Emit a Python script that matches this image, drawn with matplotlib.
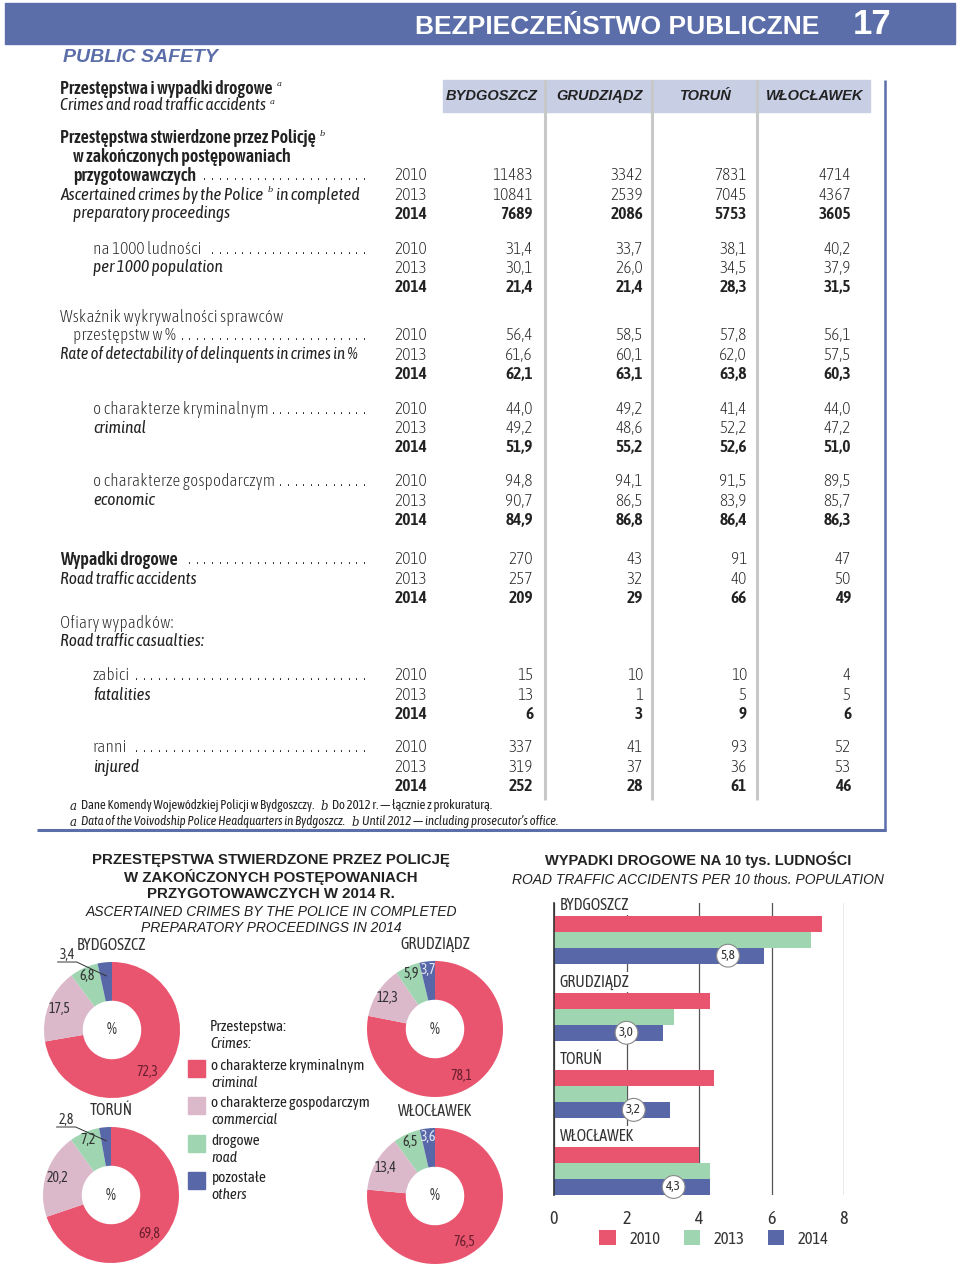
import matplotlib
matplotlib.use('Agg')
import matplotlib.pyplot as plt
from matplotlib import font_manager
from matplotlib.patches import Rectangle
from matplotlib.lines import Line2D
import numpy as np

W, H = 960, 1265

# ---- data: table ----
cities = ['BYDGOSZCZ', 'GRUDZIĄDZ', 'TORUŃ', 'WŁOCŁAWEK']
years = ['2010', '2013', '2014']
crimes = [[11483, 3342, 7831, 4714], [10841, 2539, 7045, 4367], [7689, 2086, 5753, 3605]]
crimes_per_1000 = [[31.4, 33.7, 38.1, 40.2], [30.1, 26.0, 34.5, 37.9], [21.4, 21.4, 28.3, 31.5]]
detect_total = [[56.4, 58.5, 57.8, 56.1], [61.6, 60.1, 62.0, 57.5], [62.1, 63.1, 63.8, 60.3]]
detect_criminal = [[44.0, 49.2, 41.4, 44.0], [49.2, 48.6, 52.2, 47.2], [51.9, 55.2, 52.6, 51.0]]
detect_economic = [[94.8, 94.1, 91.5, 89.5], [90.7, 86.5, 83.9, 85.7], [84.9, 86.8, 86.4, 86.3]]
accidents = [[270, 43, 91, 47], [257, 32, 40, 50], [209, 29, 66, 49]]
fatalities = [[15, 10, 10, 4], [13, 1, 5, 5], [6, 3, 9, 6]]
injured = [[337, 41, 93, 52], [319, 37, 36, 53], [252, 28, 61, 46]]

# ---- data: donuts (2014, %) ----
types_pl = ['o charakterze kryminalnym', 'o charakterze gospodarczym', 'drogowe', 'pozostałe']
types_en = ['criminal', 'commercial', 'road', 'others']
share_criminal = [72.3, 78.1, 69.8, 76.5]
share_commercial = [17.5, 12.3, 20.2, 13.4]
share_road = [6.8, 5.9, 7.2, 6.5]
share_others = [3.4, 3.7, 2.8, 3.6]

# ---- data: road accidents per 10 thous. population ----
acc_2010 = [7.4, 4.3, 4.4, 4.0]
acc_2013 = [7.1, 3.3, 2.0, 4.3]
acc_2014 = [5.8, 3.0, 3.2, 4.3]
bar_ticks = [0, 2, 4, 6, 8]

# ---- style ----
RED = '#e9556f'
PINK = '#dbb9cb'
GREEN = '#9fd6b1'
BLUE = '#5867a8'
HEAD = '#5b6ea9'
BAND = '#c8cfe5'
TXT = '#222222'
type_colors = [RED, PINK, GREEN, BLUE]

names = {f.name for f in font_manager.fontManager.ttflist}
NARROW = 'Asap Condensed' if 'Asap Condensed' in names else 'Liberation Sans'
SANS = 'Liberation Sans'
LIGHT = 'light'
SEMI = 'semibold'
plt.rcParams['font.family'] = [NARROW, 'DejaVu Sans']

fig = plt.figure(figsize=(W / 100, H / 100), dpi=100)
renderer = fig.canvas.get_renderer()


def fx(x):
    return x / W


def fy(y):
    return 1 - y / H


def put(x, y, s, size=12, family=None, color=TXT, **kw):
    kw.setdefault('va', 'center')
    fam = [family or NARROW, 'DejaVu Sans']
    return fig.text(fx(x), fy(y), s, fontsize=size, family=fam, color=color, **kw)


def chain(x, y, parts, size=12):
    # lay out text pieces one after another on a line
    t = None
    for s, kw in parts:
        kw = dict(kw)
        dy = kw.pop('dy', 0)
        gap = kw.pop('gap', 4)
        sz = kw.pop('size', size)
        t = put(x, y + dy, s, size=sz, **kw)
        x = t.get_window_extent(renderer).x1 + gap
    return t


def hline(x0, x1, y, color, lw):
    fig.add_artist(Line2D([fx(x0), fx(x1)], [fy(y), fy(y)], transform=fig.transFigure,
                          color=color, lw=lw, solid_capstyle='butt'))


def vline(x, y0, y1, color, lw):
    fig.add_artist(Line2D([fx(x), fx(x)], [fy(y0), fy(y1)], transform=fig.transFigure,
                          color=color, lw=lw, solid_capstyle='butt'))


def fmt(v):
    return str(v) if isinstance(v, int) else f'{v:.1f}'.replace('.', ',')


# ---- page header ----
fig.add_artist(Rectangle((fx(5), fy(44)), 950 / W, 41 / H, transform=fig.transFigure,
                         color=HEAD, zorder=0))
put(415, 27, 'BEZPIECZEŃSTWO PUBLICZNE', size=19, family=SANS, weight='bold', color='white')
put(853, 25, '17', size=25, family=SANS, weight='bold', color='white')
put(63, 58, 'PUBLIC SAFETY', size=14, family=SANS, weight='bold', style='italic', color=HEAD)

# ---- table frame ----
fig.add_artist(Rectangle((fx(443), fy(112)), 427 / W, 32 / H, transform=fig.transFigure,
                         color=BAND, zorder=0))
for x in [545, 652, 757]:
    vline(x, 80, 800, '#c8c8c8', 2.2)
vline(885, 80, 831, HEAD, 1.8)
hline(37, 886, 830, HEAD, 2.2)
for city, cx in zip(cities, [492, 599, 706, 815]):
    put(cx, 96, city, size=10.5, family=SANS, weight='bold', style='italic', ha='center')

# ---- table labels ----
LS = 12.5
SUP = dict(family='DejaVu Serif', style='italic', size=6, dy=-4.5, gap=3)
B = dict(weight=SEMI, size=13)
I = dict(style='italic', weight=LIGHT)
N = dict(weight=LIGHT)
labels = [
    (60, 89, [('Przestępstwa i wypadki drogowe', B), ('a', SUP)], False),
    (60, 106, [('Crimes and road traffic accidents', I), ('a', SUP)], False),
    (60, 138, [('Przestępstwa stwierdzone przez Policję', B), ('b', SUP)], False),
    (73, 157, [('w zakończonych postępowaniach', B)], False),
    (73, 176, [('przygotowawczych', B)], True),
    (60, 195, [('Ascertained crimes by the Police', I), ('b', SUP), ('in completed', I)], False),
    (73, 214, [('preparatory proceedings', I)], False),
    (93, 249, [('na 1000 ludności', N)], True),
    (93, 268, [('per 1000 population', I)], False),
    (60, 317, [('Wskaźnik wykrywalności sprawców', N)], False),
    (73, 336, [('przestępstw w %', N)], True),
    (60, 355, [('Rate of detectability of delinquents in crimes in %', dict(I, size=12))], False),
    (93, 409, [('o charakterze kryminalnym', N)], True),
    (93, 428, [('criminal', I)], False),
    (93, 482, [('o charakterze gospodarczym', N)], True),
    (93, 501, [('economic', I)], False),
    (60, 560, [('Wypadki drogowe', B)], True),
    (60, 579, [('Road traffic accidents', I)], False),
    (60, 623, [('Ofiary wypadków:', N)], False),
    (60, 642, [('Road traffic casualties:', I)], False),
    (93, 676, [('zabici', N)], True),
    (93, 695, [('fatalities', I)], False),
    (93, 748, [('ranni', N)], True),
    (93, 768, [('injured', I)], False),
]
DOT_STEP = 7.6
for x, y, parts, dots in labels:
    t = chain(x, y, parts, size=LS)
    if dots:
        x0 = t.get_window_extent(renderer).x1 + 6
        xd = 366
        while xd > x0:
            put(xd, y, '.', size=LS, weight=LIGHT, ha='right')
            xd -= DOT_STEP

# ---- table values ----
VS = 12.5
blocks = [crimes, crimes_per_1000, detect_total, detect_criminal, detect_economic,
          accidents, fatalities, injured]
block_y = [176, 249, 336, 409, 482, 560, 676, 748]
col_right = [533, 643, 747, 851]
for data, y0 in zip(blocks, block_y):
    for r, (yr, vals) in enumerate(zip(years, data)):
        y = y0 + r * 19.3
        w = SEMI if yr == '2014' else LIGHT
        put(411, y, yr, size=VS, ha='center', weight=w)
        for v, xr in zip(vals, col_right):
            put(xr, y, fmt(v), size=VS, ha='right', weight=w)

# ---- footnotes ----
FA = dict(family='DejaVu Serif', style='italic', size=8.5, gap=4)
chain(70, 806, [('a', FA), ('Dane Komendy Wojewódzkiej Policji w Bydgoszczy.', dict(gap=6)),
                ('b', FA), ('Do 2012 r. — łącznie z prokuraturą.', {})], size=9.2)
chain(70, 822, [('a', FA), ('Data of the Voivodship Police Headquarters in Bydgoszcz.', dict(style='italic', gap=6)),
                ('b', FA), ('Until 2012 — including prosecutor’s office.', dict(style='italic'))], size=9.2)

# ---- donut charts ----
for i, s in enumerate(['PRZESTĘPSTWA STWIERDZONE PRZEZ POLICJĘ', 'W ZAKOŃCZONYCH POSTĘPOWANIACH',
                       'PRZYGOTOWAWCZYCH W 2014 R.']):
    put(271, 860 + i * 17, s, size=10.8, family=SANS, weight='bold', ha='center')
for i, s in enumerate(['ASCERTAINED CRIMES BY THE POLICE IN COMPLETED',
                       'PREPARATORY PROCEEDINGS IN 2014']):
    put(271, 912 + i * 16, s, size=10, family=SANS, style='italic', ha='center')

donut_pos = [(112, 1030), (435, 1029), (111, 1195), (435, 1196)]
others_outside = [True, False, True, False]
label_r = [0.80, 0.83, 0.88, 0.88]
label_shift = [-10, 0, 0, 0]
label_col = ['#6b1f2e', '#333333', '#333333', '#e4e8f6']
R = 68
for i, city in enumerate(cities):
    cx, cy = donut_pos[i]
    ax = fig.add_axes([fx(cx - R), fy(cy + R), 2 * R / W, 2 * R / H])
    vals = [share_criminal[i], share_commercial[i], share_road[i], share_others[i]]
    wedges, _ = ax.pie(vals, colors=type_colors, startangle=90, counterclock=False,
                       radius=1, wedgeprops=dict(width=0.57, edgecolor='none'))
    ax.set_xlim(-1, 1)
    ax.set_ylim(-1, 1)
    ax.set_aspect('equal')
    ax.axis('off')
    ax.text(0, 0, '%', ha='center', va='center', fontsize=11.5, color='#333333')
    ax.text(0, 1.24, city, ha='center', va='center', fontsize=11.5, color='#333333', clip_on=False)
    for j, (w, v) in enumerate(zip(wedges, vals)):
        ang = np.deg2rad((w.theta1 + w.theta2) / 2 + label_shift[j])
        lab = fmt(v)
        if j == 3 and others_outside[i]:
            ex, ey = 0.8 * np.cos(ang), 0.8 * np.sin(ang)
            ax.plot([-0.8, -0.52, ex], [1.0, 1.0, ey], color='#333333', lw=0.7, clip_on=False)
            ax.text(-0.66, 1.1, lab, ha='center', va='center', fontsize=10,
                    color='#333333', clip_on=False)
        else:
            rr = label_r[j]
            ax.text(rr * np.cos(ang), rr * np.sin(ang), lab, ha='center', va='center',
                    fontsize=10, color=label_col[j])

# donut legend
LG = 11
put(210, 1027, 'Przestepstwa:', size=LG)
put(210, 1044, 'Crimes:', size=LG, style='italic')
for k, (pl, en, col) in enumerate(zip(types_pl, types_en, type_colors)):
    y1 = 1066 + k * 37.3
    fig.add_artist(Rectangle((fx(188), fy(y1 + 11)), 17 / W, 17 / H,
                             transform=fig.transFigure, color=col))
    put(211, y1, pl, size=LG)
    put(211, y1 + 17, en, size=LG, style='italic')

# ---- bar chart ----
put(698, 860, 'WYPADKI DROGOWE NA 10 tys. LUDNOŚCI', size=10.5, family=SANS, weight='bold', ha='center')
put(698, 880, 'ROAD TRAFFIC ACCIDENTS PER 10 thous. POPULATION', size=10, family=SANS,
    style='italic', ha='center')

axb = fig.add_axes([fx(554), fy(1195), (844 - 554) / W, (1195 - 903) / H])
yy = np.arange(len(cities))
bh = 0.206
axb.barh(yy - bh, acc_2010, height=bh, color=RED, label=years[0], zorder=2)
axb.barh(yy, acc_2013, height=bh, color=GREEN, label=years[1], zorder=2)
axb.barh(yy + bh, acc_2014, height=bh, color=BLUE, label=years[2], zorder=2)
axb.set_xlim(0, 8)
axb.set_ylim(3.31, -0.477)
axb.set_xticks(bar_ticks)
axb.set_yticks([])
axb.xaxis.grid(True, color='#555555', lw=0.9)
axb.set_axisbelow(True)
for side in ['top', 'right', 'bottom']:
    axb.spines[side].set_visible(False)
axb.spines['left'].set_color('#333333')
axb.spines['left'].set_linewidth(1.2)
axb.tick_params(axis='x', length=0, pad=11, labelsize=13, labelcolor='#333333')
for i, city in enumerate(cities):
    axb.text(0.16, i - 1.5 * bh - 0.03, city, ha='left', va='bottom', fontsize=11.5,
             color='#333333', zorder=3,
             bbox=dict(boxstyle='square,pad=0.1', fc='white', ec='none'))
    v = acc_2014[i]
    axb.text(v - 1.0, i + bh, fmt(v), ha='center', va='center', fontsize=9.5, color='#333333',
             zorder=4, bbox=dict(boxstyle='circle,pad=0.3', fc='white', ec='#888888', lw=0.8))
fig.legend(loc='center', bbox_to_anchor=(fx(714), fy(1239)), ncol=3, frameon=False,
           fontsize=12, handlelength=1.0, handleheight=1.0, handletextpad=0.8,
           columnspacing=1.4, labelcolor='#333333')

fig.savefig('out.png', dpi=100)
